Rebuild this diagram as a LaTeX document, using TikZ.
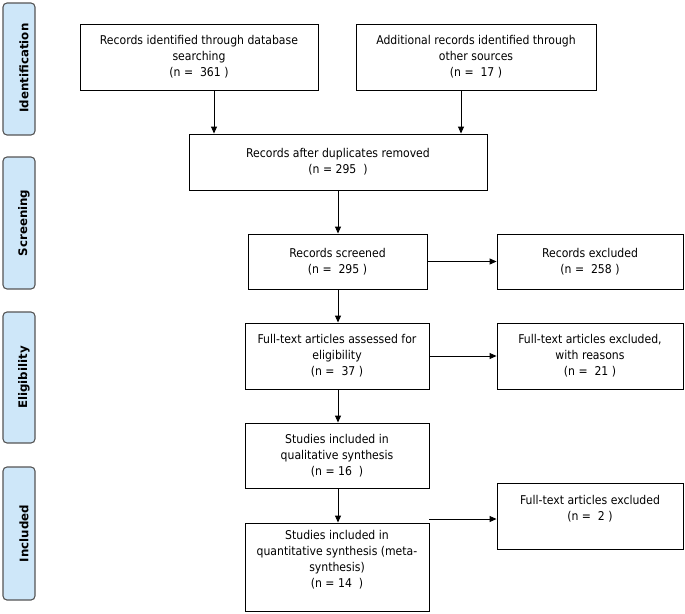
\documentclass[tikz,border=0pt]{standalone}
\usepackage{fontspec}
\setmainfont{DejaVu Sans Condensed}
\newfontfamily\sidefont{DejaVu Sans}
\usetikzlibrary{arrows.meta}
\definecolor{sidefill}{RGB}{206,231,249}
\definecolor{sidedraw}{RGB}{85,85,85}
\begin{document}
\begin{tikzpicture}[x=1pt,y=-1pt,
  box/.style={draw=black,line width=0.9pt,align=center,inner sep=0pt,
    font=\fontsize{12.1}{16}\selectfont},
  side/.style={draw=sidedraw,fill=sidefill,line width=1.1pt,rounded corners=4pt,
    minimum width=32pt,inner sep=0pt},
  sidetext/.style={rotate=90,font=\sidefont\bfseries\fontsize{11.8}{13}\selectfont,inner sep=0pt},
  arr/.style={line width=0.9pt,-{Triangle[length=7pt,width=6pt]}}]
\useasboundingbox (0,0) rectangle (685,613);
% side labels
\node[side,minimum height=132pt] (sid) at (19,69) {};
\node[sidetext] (tid) at (24,68) {Identification};
\node[side,minimum height=132pt] (sscr) at (19,223) {};
\node[sidetext] (tscr) at (24,223) {Screening};
\node[side,minimum height=131pt] (selig) at (19,377.5) {};
\node[sidetext] (telig) at (24,377.5) {Eligibility};
\node[side,minimum height=133pt] (sinc) at (19,533.5) {};
\node[sidetext] (tinc) at (24,533.5) {Included};
% boxes
\node[box,minimum width=238pt,minimum height=66pt] (db) at (199,57)
  {Records identified through database\\searching\\(n =\ \ 361 )};
\node[box,minimum width=240pt,minimum height=66pt] (other) at (476,57)
  {Additional records identified through\\other sources\\(n =\ \ 17 )};
\node[box,minimum width=298pt,minimum height=56pt] (dup) at (338,162)
  {Records after duplicates removed\\(n = 295\ \ )};
\node[box,minimum width=179pt,minimum height=55pt] (scr) at (337.5,261.5)
  {Records screened\\(n =\ \ 295 )};
\node[box,minimum width=186pt,minimum height=55pt] (exc) at (590,261.5)
  {Records excluded\\(n =\ \ 258 )};
\node[box,minimum width=184pt,minimum height=66pt] (ft) at (337,356)
  {Full-text articles assessed for\\eligibility\\(n =\ \ 37 )};
\node[box,minimum width=186pt,minimum height=66pt] (ftx) at (590,356)
  {Full-text articles excluded,\\with reasons\\(n =\ \ 21 )};
\node[box,minimum width=184pt,minimum height=65pt] (qual) at (337,455.5)
  {Studies included in\\qualitative synthesis\\(n = 16\ \ )};
\node[box,minimum width=184pt,minimum height=88pt] (quant) at (337,567)
  {Studies included in\\quantitative synthesis (meta-\\synthesis)\\(n = 14\ \ )\\ \mbox{}};
\node[box,minimum width=186pt,minimum height=66pt] (ftx2) at (590,516)
  {Full-text articles excluded\\(n =\ \ 2 )\\ \mbox{}};
% connectors
\draw[arr] ([xshift=15pt]db.south) -- ([xshift=15pt]db.south |- dup.north);
\draw[arr] ([xshift=-15pt]other.south) -- ([xshift=-15pt]other.south |- dup.north);
\draw[arr] (dup.south) -- (dup.south |- scr.north);
\draw[arr] (scr.east) -- (scr.east -| exc.west);
\draw[arr] (scr.south -| dup.south) -- (dup.south |- ft.north);
\draw[arr] (ft.east) -- (ft.east -| ftx.west);
\draw[arr] (ft.south -| dup.south) -- (dup.south |- qual.north);
\draw[arr] (qual.south -| dup.south) -- (dup.south |- quant.north);
\draw[arr] ([yshift=-3pt]ftx2.west -| quant.east) -- ([yshift=-3pt]ftx2.west);
\end{tikzpicture}
\end{document}
